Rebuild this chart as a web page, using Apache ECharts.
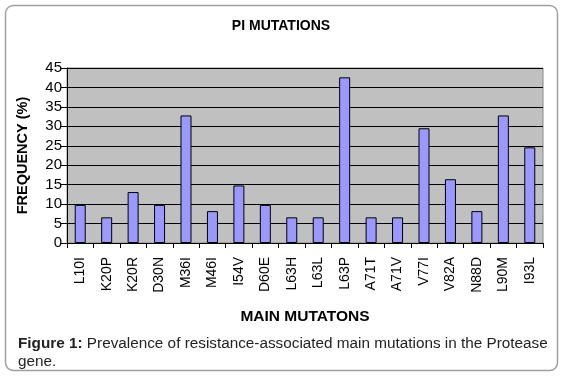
<!DOCTYPE html>
<html>
<head>
<meta charset="utf-8">
<script src="https://cdn.jsdelivr.net/npm/echarts@6/dist/echarts.min.js"></script>
<style>
  html, body { margin: 0; padding: 0; background: #fff; }
  #chart { width: 565px; height: 383px; }
</style>
</head>
<body>
<div id="chart"></div>
<script>
const mutations = ['L10I', 'K20P', 'K20R', 'D30N', 'M36I', 'M46I', 'I54V', 'D60E', 'L63H',
  'L63L', 'L63P', 'A71T', 'A71V', 'V77I', 'V82A', 'N88D', 'L90M', 'I93L']
const frequency = [9.8, 6.6, 13.1, 9.8, 32.8, 8.2, 14.8, 9.8, 6.6,
  6.6, 42.6, 6.6, 6.6, 29.5, 16.4, 8.2, 32.8, 24.6]
const yMax = 45
const yStep = 5

const font = '"Liberation Sans", Arial, sans-serif'
const chart = echarts.init(document.getElementById('chart'), null, { renderer: 'canvas' })

chart.setOption({
  animation: false,
  backgroundColor: '#fff',
  textStyle: { fontFamily: font },
  title: {
    text: 'PI MUTATIONS',
    left: 276,
    top: 14,
    textAlign: 'center',
    textStyle: { fontSize: 14, fontWeight: 'bold', color: '#000', fontFamily: font }
  },
  grid: { left: 67, right: 22, top: 68, bottom: 140, show: true, backgroundColor: '#c0c0c0', borderColor: '#888', borderWidth: 1 },
  xAxis: {
    type: 'category',
    data: mutations,
    name: 'MAIN MUTATONS',
    nameLocation: 'middle',
    nameGap: 66,
    nameTextStyle: { fontSize: 15.5, fontWeight: 'bold', color: '#000', fontFamily: font },
    axisLine: { lineStyle: { color: '#000', width: 1 } },
    axisTick: { show: true, length: 5, lineStyle: { color: '#000' } },
    axisLabel: { rotate: 90, fontSize: 14, color: '#000', margin: 14, interval: 0, fontFamily: font },
    splitLine: { show: false }
  },
  yAxis: {
    type: 'value',
    min: 0,
    max: yMax,
    interval: yStep,
    name: 'FREQUENCY (%)',
    nameLocation: 'middle',
    nameRotate: 90,
    nameGap: 37,
    nameTextStyle: { fontSize: 14.5, fontWeight: 'bold', color: '#000', fontFamily: font },
    axisLine: { show: true, lineStyle: { color: '#000', width: 1 } },
    axisTick: { show: true, inside: false, length: 6, lineStyle: { color: '#000' } },
    axisLabel: { fontSize: 15, color: '#000', margin: 5, fontFamily: font },
    splitLine: { show: true, lineStyle: { color: '#000', width: 1 } }
  },
  series: [{
    type: 'bar',
    data: frequency,
    barWidth: 11,
    itemStyle: { color: '#9999ff', borderColor: '#000', borderWidth: 1 }
  }],
  graphic: [
    {
      type: 'rect',
      shape: { x: 5.5, y: 5.5, width: 552, height: 365, r: 8 },
      style: { fill: 'none', stroke: '#a0a0a0', lineWidth: 1.5 },
      z: -1
    },
    {
      type: 'text',
      left: 18,
      top: 335,
      style: {
        text: '{b|Figure 1:} Prevalence of resistance-associated main mutations in the Protease\ngene.',
        fontSize: 15.3,
        lineHeight: 18,
        fill: '#222',
        fontFamily: font,
        rich: { b: { fontWeight: 'bold', fontSize: 15.3, fill: '#222', fontFamily: font } }
      }
    }
  ]
})
</script>
</body>
</html>
